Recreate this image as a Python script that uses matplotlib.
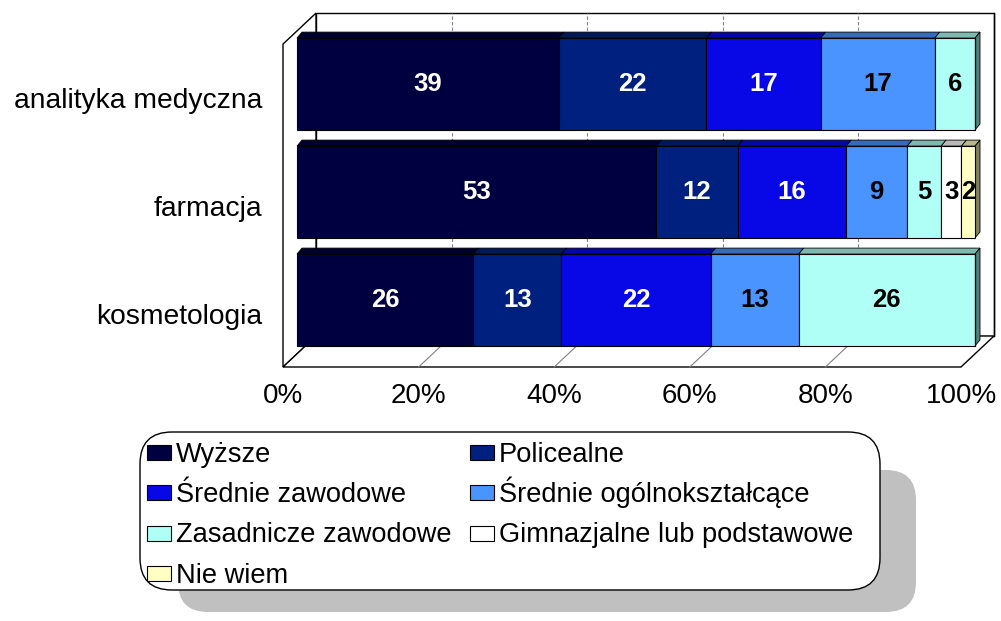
import matplotlib
matplotlib.use("Agg")
import matplotlib.pyplot as plt
import numpy as np
from matplotlib.patches import Polygon, Rectangle, FancyBboxPatch

plt.rcParams['font.family'] = ['Liberation Sans', 'DejaVu Sans']

# ---------------- data ----------------
categories = ['kosmetologia', 'farmacja', 'analityka medyczna']   # bottom -> top
series_names = ['Wyższe', 'Policealne', 'Średnie zawodowe', 'Średnie ogólnokształcące',
                'Zasadnicze zawodowe', 'Gimnazjalne lub podstawowe', 'Nie wiem']
wyzsze = [26, 53, 39]
policealne = [13, 12, 22]
srednie_zawodowe = [22, 16, 17]
srednie_ogolne = [13, 9, 17]
zasadnicze = [26, 5, 6]
gimnazjalne = [0, 3, 0]
nie_wiem = [0, 2, 0]
tick_values = [0, 20, 40, 60, 80, 100]
tick_labels = ['0%', '20%', '40%', '60%', '80%', '100%']

series_values = [wyzsze, policealne, srednie_zawodowe, srednie_ogolne,
                 zasadnicze, gimnazjalne, nie_wiem]
colors = ['#000040', '#002080', '#0808E6', '#4A94FF', '#B0FFF6', '#FFFFFF', '#FFFFC4']
label_colors = ['white', 'white', 'white', 'black', 'black', 'black', 'black']

# ---------------- layout ----------------
W, H = 1001, 621
fig = plt.figure(figsize=(W / 100, H / 100), dpi=100)
PX_PER_PCT = 6.78
X0_PX = 297
ROW_PX = 108
ROW0_PX = 300

ax = fig.add_axes([0, 0, 1, 1])
ax.set_xlim(-X0_PX / PX_PER_PCT, (W - X0_PX) / PX_PER_PCT)
ax.set_ylim((ROW0_PX - H) / ROW_PX, ROW0_PX / ROW_PX)
ax.axis('off')

# 3D geometry (in data units)
Fx, Fy = -14 / PX_PER_PCT, -13 / ROW_PX     # front plane offset
Bx, By = 19 / PX_PER_PCT, 18 / ROW_PX       # back plane offset
r_floor, r_top = -0.5, 2.49
bdx, bdy = 5 / PX_PER_PCT, 6 / ROW_PX       # bar depth
bar_h = 0.85

# walls
ax.add_patch(Polygon([(Bx, r_floor + By), (100 + Bx, r_floor + By),
                      (100 + Bx, r_top + By), (Bx, r_top + By)],
                     closed=True, facecolor='white', edgecolor='black', lw=1.0, zorder=1))
ax.add_patch(Polygon([(Fx, r_floor + Fy), (Bx, r_floor + By),
                      (Bx, r_top + By), (Fx, r_top + Fy)],
                     closed=True, facecolor='white', edgecolor='black', lw=1.0, zorder=1.2))
ax.add_patch(Polygon([(Fx, r_floor + Fy), (100 + Fx, r_floor + Fy),
                      (100 + Bx, r_floor + By), (Bx, r_floor + By)],
                     closed=True, facecolor='white', edgecolor='black', lw=1.0, zorder=1.2))
for t in tick_values[1:-1]:
    ax.plot([t + Bx, t + Bx], [r_floor + By, r_top + By], color='#808080',
            lw=0.8, ls=(0, (3, 2)), zorder=1.1)
    ax.plot([t + Fx, t + Bx], [r_floor + Fy, r_floor + By], color='#808080',
            lw=0.8, zorder=1.3)
ax.plot([100 + Bx, 100 + Bx], [r_floor + By, r_top + By], color='black', lw=1.0, zorder=1.1)

# tick labels
for t, lab in zip(tick_values, tick_labels):
    ax.text(t + Fx, (ROW0_PX - 396) / ROW_PX, lab, ha='center', va='center',
            fontsize=20, color='black')

# category labels
rows = np.arange(len(categories))
for r, cat in zip(rows, categories):
    ax.text((262 - X0_PX) / PX_PER_PCT, r - 0.16, cat, ha='right', va='center',
            fontsize=20.3, color='black')

# bars (100% stacked)
vals = np.array(series_values, dtype=float)
totals = vals.sum(axis=0)
pct = vals / totals * 100
left = np.zeros(len(categories))


def shade(c, f):
    rgb = np.array(matplotlib.colors.to_rgb(c))
    return tuple(rgb * f)


last_idx = [max(i for i in range(len(series_values)) if vals[i, j] > 0)
            for j in range(len(categories))]

for i, (name, col) in enumerate(zip(series_names, colors)):
    w = pct[i]
    ax.barh(rows, w, left=left, height=bar_h, color=col, edgecolor='black',
            linewidth=0.8, zorder=4)
    for j, r in enumerate(rows):
        if vals[i, j] <= 0:
            continue
        L, R = left[j], left[j] + w[j]
        top = r + bar_h / 2
        bot = r - bar_h / 2
        ax.add_patch(Polygon([(L, top), (R, top), (R + bdx, top + bdy), (L + bdx, top + bdy)],
                             closed=True, facecolor=shade(col, 0.72), edgecolor='black',
                             lw=0.6, zorder=3.5))
        if i == last_idx[j]:
            ax.add_patch(Polygon([(R, bot), (R + bdx, bot + bdy), (R + bdx, top + bdy), (R, top)],
                                 closed=True, facecolor=shade(col, 0.5), edgecolor='black',
                                 lw=0.6, zorder=3.5))
        ax.text(L + w[j] / 2, r, f"{int(vals[i, j])}", ha='center', va='center',
                fontsize=18.5, fontweight='bold', color=label_colors[i], zorder=6)
    left = left + w

# ---------------- legend ----------------
lax = fig.add_axes([0, 0, 1, 1], zorder=-1)
lax.set_xlim(0, W)
lax.set_ylim(H, 0)
lax.axis('off')
lax.add_patch(FancyBboxPatch((178, 470), 738, 142,
                             boxstyle='round,pad=0,rounding_size=30',
                             facecolor='#C0C0C0', edgecolor='none'))
lax.add_patch(FancyBboxPatch((140, 432), 740, 158,
                             boxstyle='round,pad=0,rounding_size=32',
                             facecolor='white', edgecolor='black', lw=1.0))
ax.set_zorder(1)
ax.patch.set_visible(False)

leg_col_x = [147, 470]
leg_row_y0, leg_row_dy = 452, 40.5
for k, (name, col) in enumerate(zip(series_names, colors)):
    cx = leg_col_x[k % 2]
    cy = leg_row_y0 + (k // 2) * leg_row_dy
    lax.add_patch(Rectangle((cx, cy - 7.5), 24, 15, facecolor=col,
                            edgecolor='black', lw=0.8))
    lax.text(cx + 29, cy + 9.5, name, ha='left', va='baseline', fontsize=19.6,
             color='black')

fig.savefig('out.png', dpi=100)
